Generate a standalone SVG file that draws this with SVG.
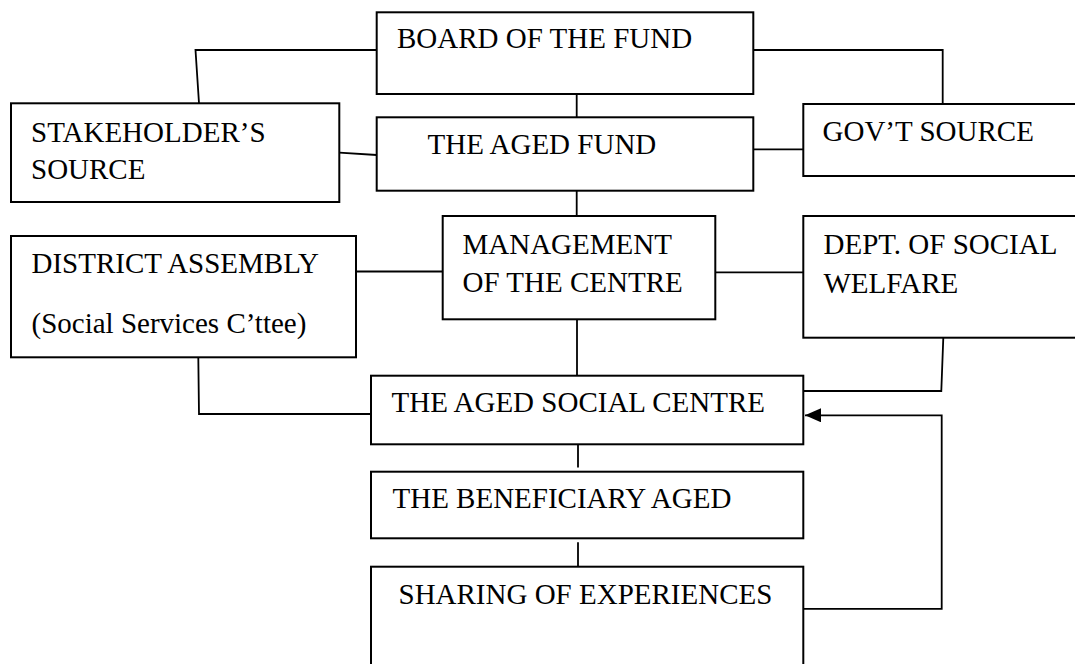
<svg xmlns="http://www.w3.org/2000/svg" width="1075" height="664" viewBox="0 0 1075 664">
<style>
.box{fill:#fff;stroke:#000;stroke-width:2}
.lbl{font-family:"Liberation Serif","Times New Roman",serif;font-size:29px;fill:#000}
.con{fill:none;stroke:#000;stroke-width:1.8}
</style>
<defs>
<marker id="arr" markerWidth="16" markerHeight="14" refX="16" refY="7" orient="auto" markerUnits="userSpaceOnUse">
<path d="M0,0 L16,7 L0,14 Z" fill="#000"/>
</marker>
</defs>
<rect width="1075" height="664" fill="#fff"/>
<g id="connectors">
<path class="con" d="M376.7,50 L195.5,50 L199,103.3"/>
<path class="con" d="M753.3,50 L942.7,50 L942.7,104"/>
<path class="con" d="M576.7,94 L576.7,117.3"/>
<path class="con" d="M339.3,152.7 L376.7,155"/>
<path class="con" d="M753.3,149.3 L803.3,149.3"/>
<path class="con" d="M576.7,190.7 L576.7,216"/>
<path class="con" d="M356,271.5 L442.7,271.5"/>
<path class="con" d="M715.3,272.3 L803.3,272.3"/>
<path class="con" d="M577,319.3 L577,375.7"/>
<path class="con" d="M198.3,357.3 L199,414 L371,414"/>
<path class="con" d="M943.3,337.7 L941.3,391 L803.3,391"/>
<path class="con" d="M578,444.3 L578,467.5"/>
<path class="con" d="M578,542.3 L578,566.7"/>
<path class="con" d="M803.3,608.8 L941.7,608.8 L941.7,415.3 L805,415.3" marker-end="url(#arr)"/>
</g>
<g id="board">
<rect class="box" x="376.7" y="12.3" width="376.6" height="81.7"/>
<text class="lbl" x="397" y="48">BOARD OF THE FUND</text>
</g>
<g id="aged-fund">
<rect class="box" x="376.7" y="117.3" width="376.6" height="73.4"/>
<text class="lbl" x="427.5" y="154.3">THE AGED FUND</text>
</g>
<g id="stakeholder">
<rect class="box" x="11" y="103.3" width="328.3" height="98.7"/>
<text class="lbl" x="31" y="141.7">STAKEHOLDER’S</text>
<text class="lbl" x="31" y="179.3">SOURCE</text>
</g>
<g id="govt">
<rect class="box" x="803.3" y="104" width="274" height="72"/>
<text class="lbl" x="822.5" y="141">GOV’T SOURCE</text>
</g>
<g id="district">
<rect class="box" x="11" y="236" width="345" height="121.3"/>
<text class="lbl" x="31.5" y="273.3">DISTRICT ASSEMBLY</text>
<text class="lbl" x="31.5" y="333.3">(Social Services C’ttee)</text>
</g>
<g id="management">
<rect class="box" x="442.7" y="216" width="272.6" height="103.3"/>
<text class="lbl" x="462.5" y="254">MANAGEMENT</text>
<text class="lbl" x="462.5" y="292.3">OF THE CENTRE</text>
</g>
<g id="dept">
<rect class="box" x="803.3" y="216" width="274" height="121.7"/>
<text class="lbl" x="823.5" y="254">DEPT. OF SOCIAL</text>
<text class="lbl" x="823.5" y="292.7">WELFARE</text>
</g>
<g id="social-centre">
<rect class="box" x="371" y="375.7" width="432.3" height="68.6"/>
<text class="lbl" x="391.5" y="412.3">THE AGED SOCIAL CENTRE</text>
</g>
<g id="beneficiary">
<rect class="box" x="371" y="471.7" width="432.3" height="66.6"/>
<text class="lbl" x="392.5" y="508.3">THE BENEFICIARY AGED</text>
</g>
<g id="sharing">
<rect class="box" x="371" y="566.7" width="432.3" height="110"/>
<text class="lbl" x="398.5" y="604">SHARING OF EXPERIENCES</text>
</g>
</svg>
